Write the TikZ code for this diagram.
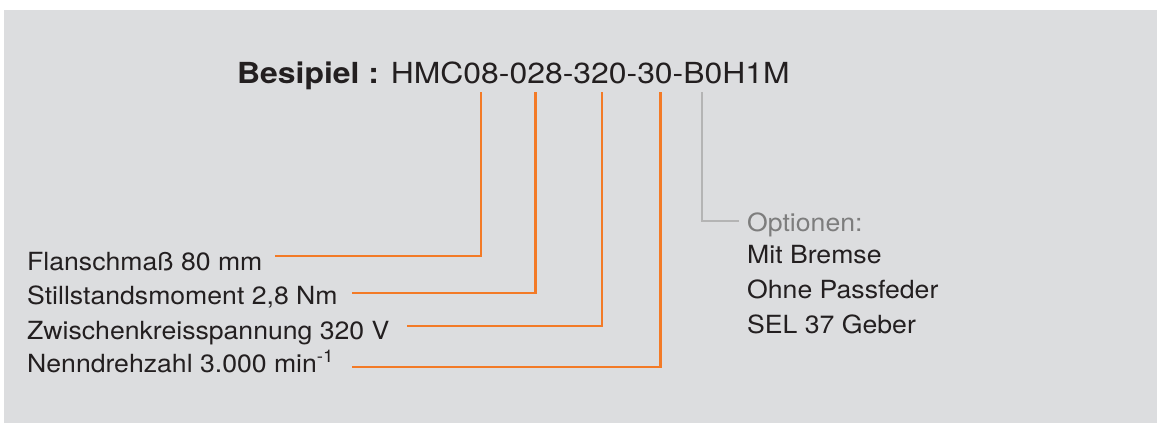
\documentclass[tikz,border=0pt]{standalone}
\usepackage{fontspec}
\setmainfont{TeX Gyre Heros}
\newfontfamily\lblfont[FakeStretch=1.065]{TeX Gyre Heros}
\newfontfamily\hdrfont[FakeStretch=1.1]{TeX Gyre Heros}
\definecolor{bg}{HTML}{DCDDDF}
\definecolor{orn}{HTML}{F37A26}
\definecolor{gline}{HTML}{B4B4B4}
\definecolor{gtext}{HTML}{7D7D7D}
\definecolor{dtext}{HTML}{231F20}
\tikzset{
  lbl/.style={anchor=base west, inner sep=0pt, text=dtext, font=\lblfont\fontsize{25}{30}\selectfont},
  glbl/.style={lbl, text=gtext},
  head/.style={anchor=base west, inner sep=0pt, text=dtext, font=\hdrfont\fontsize{29}{34}\selectfont},
  oline/.style={draw=orn, line width=2.7pt},
  gconn/.style={draw=gline, line width=2pt}
}
\begin{document}
\begin{tikzpicture}[x=1pt,y=-1pt]
\useasboundingbox (0,0) rectangle (1157,423);
\fill[bg] (4,10) rectangle (1157,423);
\node[head] (hdr) at (237,83.7) {\textbf{Besipiel :} HMC08-028-320-30-B0H1M};
% tops of the leaders
\coordinate (t1) at (481,92);
\coordinate (t2) at (535.5,92);
\coordinate (t3) at (602,92);
\coordinate (t4) at (660.5,92);
\coordinate (t5) at (701.7,92);
% labels
\node[lbl] (f) at (27,270) {Flanschmaß 80 mm};
\node[lbl] (s) at (27,304.5) {Stillstandsmoment 2,8 Nm};
\node[lbl] (z) at (27,339) {Zwischenkreisspannung 320 V};
\node[lbl] (n) at (27,372) {Nenndrehzahl 3.000 min\textsuperscript{-1}};
\coordinate (e1) at (275,256);
\coordinate (e2) at (352,293);
\coordinate (e3) at (407,326);
\coordinate (e4) at (352,367);
\draw[oline] (e1) -| (t1);
\draw[oline] (e2) -| (t2);
\draw[oline] (e3) -| (t3);
\draw[oline] (e4) -| (t4);
% options
\node[glbl] (o) at (747,231) {Optionen:};
\node[lbl] (o1) at (747,263.5) {Mit Bremse};
\node[lbl] (o2) at (747,298.5) {Ohne Passfeder};
\node[lbl] (o3) at (747,333) {SEL 37 Geber};
\coordinate (g1) at (739,221);
\draw[gconn] (t5) |- (g1);
\end{tikzpicture}
\end{document}
